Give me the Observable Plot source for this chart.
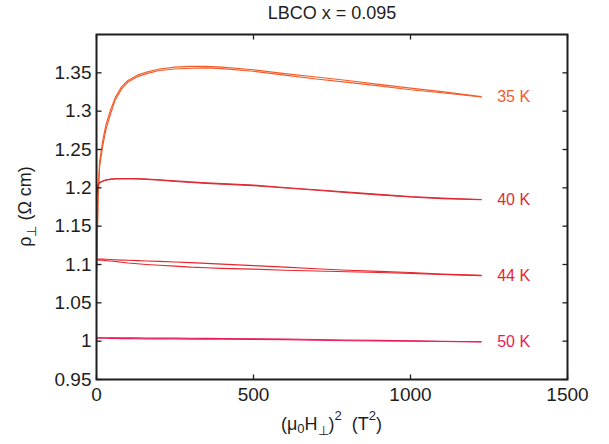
<!DOCTYPE html>
<html>
<head>
<meta charset="utf-8">
<script src="https://cdn.jsdelivr.net/npm/d3@7"></script>
<script src="https://cdn.jsdelivr.net/npm/@observablehq/plot@0.6"></script>
<style>
  html, body { margin: 0; padding: 0; background: #fff; }
  #chart svg { display: block; }
</style>
</head>
<body>
<div id="chart"></div>
<script>
// ---- data ----
const fieldSq = [0, 5, 10, 20, 30, 45, 60, 80, 100, 130, 160, 200, 250, 300, 350, 400, 500, 600, 700, 800, 900, 1000, 1100, 1225];

const rho35Up   = [1.080, 1.195, 1.235, 1.262, 1.282, 1.302, 1.318, 1.332, 1.340, 1.347, 1.351, 1.355, 1.3575, 1.3585, 1.3585, 1.3575, 1.354, 1.349, 1.3445, 1.340, 1.335, 1.330, 1.3255, 1.319];
const rho35Down = [1.080, 1.185, 1.228, 1.255, 1.276, 1.297, 1.315, 1.329, 1.338, 1.345, 1.349, 1.353, 1.355, 1.356, 1.3565, 1.3555, 1.352, 1.347, 1.342, 1.3375, 1.333, 1.328, 1.324, 1.3185];

const rho40Up   = [1.190, 1.204, 1.207, 1.209, 1.2105, 1.2115, 1.212, 1.2122, 1.2122, 1.212, 1.2115, 1.2105, 1.209, 1.2077, 1.2065, 1.2055, 1.2035, 1.2005, 1.1975, 1.1945, 1.1915, 1.1885, 1.1865, 1.1848];
const rho40Down = [1.190, 1.203, 1.2065, 1.2085, 1.210, 1.211, 1.2115, 1.2117, 1.2117, 1.2115, 1.211, 1.210, 1.2083, 1.207, 1.2058, 1.2048, 1.2028, 1.1998, 1.1968, 1.1938, 1.1908, 1.188, 1.186, 1.1845];

const rho44Up   = [1.107, 1.107, 1.107, 1.107, 1.1068, 1.1065, 1.1062, 1.1058, 1.1055, 1.105, 1.1045, 1.104, 1.1032, 1.1025, 1.1015, 1.1005, 1.0985, 1.0965, 1.0945, 1.0925, 1.091, 1.0895, 1.0875, 1.0858];
const rho44Down = [1.106, 1.106, 1.1058, 1.1055, 1.105, 1.1045, 1.104, 1.103, 1.102, 1.101, 1.100, 1.099, 1.0978, 1.0965, 1.0957, 1.095, 1.094, 1.0925, 1.0915, 1.0905, 1.0895, 1.0885, 1.087, 1.0855];

const rho50Up   = [1.0045, 1.0045, 1.0045, 1.0045, 1.0045, 1.0044, 1.0044, 1.0043, 1.0043, 1.0042, 1.0041, 1.004, 1.0039, 1.0038, 1.0036, 1.0035, 1.0031, 1.0028, 1.0022, 1.0015, 1.001, 1.0005, 0.9999, 0.9992];
const rho50Down = [1.004, 1.004, 1.004, 1.0039, 1.0038, 1.0037, 1.0036, 1.0034, 1.0033, 1.0031, 1.003, 1.003, 1.0028, 1.0026, 1.0026, 1.0025, 1.0023, 1.002, 1.0012, 1.0005, 1.0002, 1.0, 0.9995, 0.999];

const tempLabels = ["35 K", "40 K", "44 K", "50 K"];
const tempColors = ["#f35b29", "#dc2d35", "#e8252c", "#ec1b58"];

const xTicks = [0, 500, 1000, 1500];
const xTickLabels = ["0", "500", "1000", "1500"];
const yTicks = [0.95, 1, 1.05, 1.1, 1.15, 1.2, 1.25, 1.3, 1.35];
const yTickLabels = ["0.95", "1", "1.05", "1.1", "1.15", "1.2", "1.25", "1.3", "1.35"];

const titleText = "LBCO x = 0.095";

// ---- build tables ----
const series = [
  [rho35Up, rho35Down],
  [rho40Up, rho40Down],
  [rho44Up, rho44Down],
  [rho50Up, rho50Down]
];
const traces = [];
series.forEach((pair, k) => {
  pair.forEach((arr, j) => {
    traces.push(fieldSq.map((x, i) => ({x, y: arr[i], T: tempLabels[k], trace: k * 2 + j})));
  });
});
const lineData = traces.flat();
const endLabels = series.map((pair, k) => ({
  x: fieldSq[fieldSq.length - 1],
  y: (pair[0][pair[0].length - 1] + pair[1][pair[1].length - 1]) / 2,
  text: tempLabels[k],
  color: tempColors[k]
}));

const ink = "#1e1e1e";
const font = "'Liberation Sans', Arial, Helvetica, sans-serif";
const xDomain = [0, 1500];
const yDomain = [0.95, 1.40];

const chart = Plot.plot({
  width: 609,
  height: 444,
  marginLeft: 96,
  marginRight: 42,
  marginTop: 34,
  marginBottom: 65,
  style: {fontFamily: font, background: "#fff", color: ink},
  x: {domain: xDomain},
  y: {domain: yDomain},
  color: {domain: tempLabels, range: tempColors},
  marks: [
    Plot.line(lineData, {x: "x", y: "y", z: "trace", stroke: "T", strokeWidth: 1.15, strokeLinejoin: "round"}),
    // inward tick marks on all four sides
    Plot.link(yTicks, {x1: xDomain[0], x2: xDomain[0] + 16, y1: d => d, y2: d => d, stroke: ink, strokeWidth: 1.3}),
    Plot.link(yTicks, {x1: xDomain[1], x2: xDomain[1] - 16, y1: d => d, y2: d => d, stroke: ink, strokeWidth: 1.3}),
    Plot.link(xTicks, {x1: d => d, x2: d => d, y1: yDomain[0], y2: yDomain[0] + 0.0066, stroke: ink, strokeWidth: 1.3}),
    Plot.link(xTicks, {x1: d => d, x2: d => d, y1: yDomain[1], y2: yDomain[1] - 0.0066, stroke: ink, strokeWidth: 1.3}),
    Plot.axisX(xTicks, {tickSize: 0, tickPadding: 8, fontSize: 19, fill: ink, label: null,
      tickFormat: d => xTickLabels[xTicks.indexOf(d)]}),
    Plot.axisY(yTicks, {tickSize: 0, tickPadding: 5, fontSize: 19, fill: ink, label: null,
      tickFormat: d => yTickLabels[yTicks.indexOf(d)]}),
    Plot.frame({stroke: ink, strokeWidth: 2}),
    Plot.text(endLabels, {x: "x", y: "y", text: "text", fill: "color", dx: 16, textAnchor: "start", fontSize: 16}),
    Plot.text([titleText], {frameAnchor: "top", dy: -21, fontSize: 18, fill: ink, lineAnchor: "middle"})
  ]
});

document.getElementById("chart").appendChild(chart);

// ---- axis titles with sub/superscripts ----
const svg = d3.select(chart);
const cx = (96 + (609 - 42)) / 2;
const cy = (34 + (444 - 65)) / 2;

const xl = svg.append("text")
  .attr("x", cx).attr("y", 430)
  .attr("text-anchor", "middle")
  .attr("font-size", 18)
  .attr("fill", ink)
  .style("white-space", "pre");
xl.append("tspan").text("(μ");
xl.append("tspan").attr("dy", 3).attr("font-size", 13).text("0");
xl.append("tspan").attr("dy", -3).text("H");
xl.append("tspan").attr("dy", 5).attr("font-size", 13).text("⊥");
xl.append("tspan").attr("dy", -5).text(")");
xl.append("tspan").attr("dy", -10).attr("font-size", 13).text("2");
xl.append("tspan").attr("dy", 10).text("  (T");
xl.append("tspan").attr("dy", -10).attr("font-size", 13).text("2");
xl.append("tspan").attr("dy", 10).text(")");

const yl = svg.append("text")
  .attr("transform", `translate(31,${cy}) rotate(-90)`)
  .attr("text-anchor", "middle")
  .attr("font-size", 18)
  .attr("fill", ink)
  .style("white-space", "pre");
yl.append("tspan").text("ρ");
yl.append("tspan").attr("dy", 5).attr("font-size", 13).text("⊥");
yl.append("tspan").attr("dy", -5).text(" (Ω cm)");
</script>
</body>
</html>
